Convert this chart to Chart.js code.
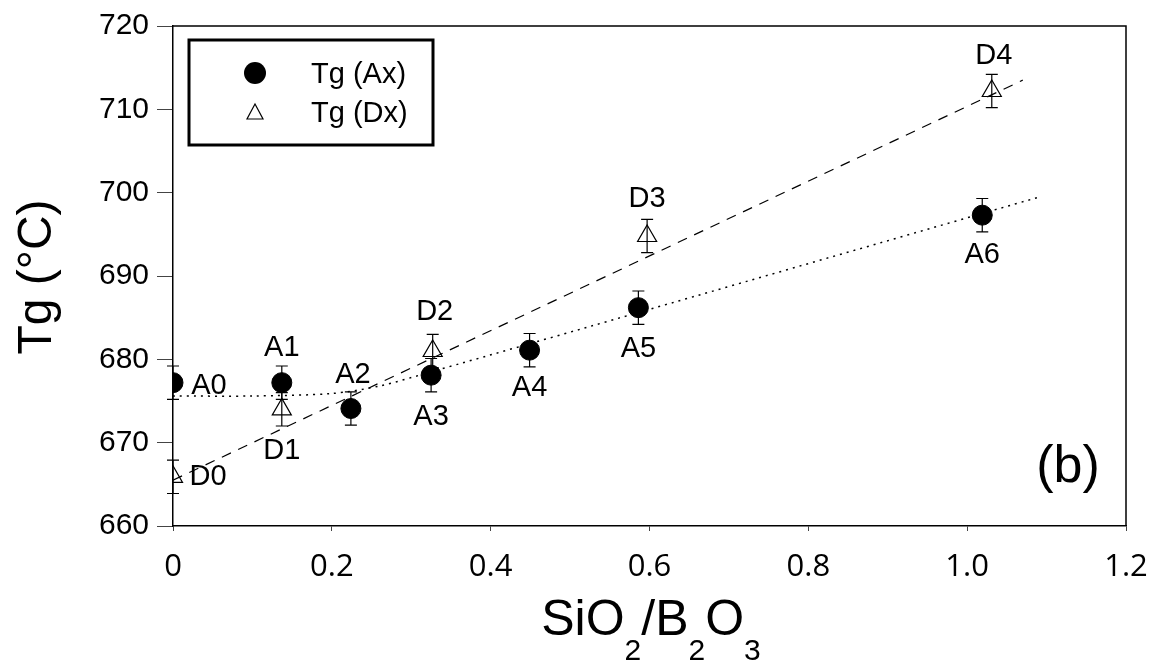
<!DOCTYPE html>
<html>
<head>
<meta charset="utf-8">
<script src="https://cdn.jsdelivr.net/npm/chart.js@4"></script>
<style>
  body { margin: 0; background: #fff; }
  #wrap { width: 1152px; height: 664px; }
</style>
</head>
<body>
<div id="wrap"><canvas id="c" width="1152" height="664"></canvas></div>
<script>
// A series (filled circles)
const aX = [0, 0.137, 0.224, 0.325, 0.449, 0.586, 1.019];
const aY = [677.2, 677.2, 674.1, 678.1, 681.1, 686.2, 697.3];
const aErr = [2, 2, 2, 2, 2, 2, 2];
const aNames = ['A0', 'A1', 'A2', 'A3', 'A4', 'A5', 'A6'];
const aLabelOff = [[36, 3], [0, -35], [2, -34], [0, 42], [0, 38], [0, 41], [0, 40]];

// D series (open triangles)
const dX = [0, 0.137, 0.327, 0.597, 1.031];
const dY = [665.9, 674.0, 681.0, 694.8, 712.2];
const dErr = [2, 2, 2, 2, 2];
const dNames = ['D0', 'D1', 'D2', 'D3', 'D4'];
const dLabelOff = [[35, 0], [0, 42], [2, -39], [0, -37], [2, -35]];

// fit lines
const fitDX = [0, 1.07];
const fitDY = [665.5, 713.5];
const fitAX = [0, 0.1, 0.2, 0.26, 0.325, 0.6, 1.088];
const fitAY = [675.6, 675.6, 675.9, 676.8, 678.5, 686.0, 699.4];

const xTicks = [0, 0.2, 0.4, 0.6, 0.8, 1.0, 1.2];
const yTicks = [660, 670, 680, 690, 700, 710, 720];

const pts = (xs, ys) => xs.map((x, i) => ({ x: x, y: ys[i] }));
const FONT = 'Liberation Sans, Arial, sans-serif';

const extras = {
    id: 'extras',
    afterDatasetsDraw(chart) {
        const ctx = chart.ctx;
        const xs = chart.scales.x, ys = chart.scales.y;
        const ca = chart.chartArea;
        ctx.save();
        // top/right frame
        ctx.strokeStyle = '#000';
        ctx.lineWidth = 1.5;
        ctx.beginPath();
        ctx.moveTo(ca.left, ca.top); ctx.lineTo(ca.right, ca.top); ctx.lineTo(ca.right, ca.bottom);
        ctx.stroke();

        // error bars
        ctx.lineWidth = 1.2;
        const bars = (X, Y, E) => X.forEach((x, i) => {
            const px = xs.getPixelForValue(x);
            const t = ys.getPixelForValue(Y[i] + E[i]);
            const b = ys.getPixelForValue(Y[i] - E[i]);
            ctx.beginPath();
            ctx.moveTo(px, t); ctx.lineTo(px, b);
            ctx.moveTo(px - 6, t); ctx.lineTo(px + 6, t);
            ctx.moveTo(px - 6, b); ctx.lineTo(px + 6, b);
            ctx.stroke();
        });
        bars(aX, aY, aErr);
        bars(dX, dY, dErr);

        // point labels
        ctx.fillStyle = '#000';
        ctx.font = '29px ' + FONT;
        ctx.textAlign = 'center';
        ctx.textBaseline = 'middle';
        const labels = (X, Y, N, O) => X.forEach((x, i) => {
            ctx.fillText(N[i], xs.getPixelForValue(x) + O[i][0], ys.getPixelForValue(Y[i]) + O[i][1]);
        });
        labels(aX, aY, aNames, aLabelOff);
        labels(dX, dY, dNames, dLabelOff);

        // (b)
        ctx.font = '52px ' + FONT;
        ctx.fillText('(b)', 1068, 468);

        // legend box
        ctx.lineWidth = 3;
        ctx.strokeRect(189, 40, 244, 105);
        ctx.beginPath();
        ctx.arc(255, 73, 11, 0, Math.PI * 2);
        ctx.fill();
        ctx.lineWidth = 1.2;
        ctx.beginPath();
        ctx.moveTo(255, 104); ctx.lineTo(263, 119); ctx.lineTo(247, 119); ctx.closePath();
        ctx.stroke();
        ctx.font = '29px ' + FONT;
        ctx.textAlign = 'left';
        ctx.fillText('Tg (Ax)', 311, 75);
        ctx.fillText('Tg (Dx)', 311, 114);

        // x title with subscripts
        ctx.textBaseline = 'alphabetic';
        const parts = [['SiO', 0], ['2', 1], ['/B', 0], ['2', 1], ['O', 0], ['3', 1]];
        let total = 0;
        parts.forEach(p => {
            ctx.font = (p[1] ? '30px ' : '50px ') + FONT;
            total += ctx.measureText(p[0]).width;
        });
        let cx = 651 - total / 2;
        parts.forEach(p => {
            ctx.font = (p[1] ? '30px ' : '50px ') + FONT;
            ctx.fillText(p[0], cx, p[1] ? 660 : 635);
            cx += ctx.measureText(p[0]).width;
        });

        // y title
        ctx.font = '48px ' + FONT;
        ctx.textAlign = 'center';
        ctx.textBaseline = 'middle';
        ctx.translate(38, 277);
        ctx.rotate(-Math.PI / 2);
        ctx.fillText('Tg (°C)', 0, 0);
        ctx.restore();
    }
};

new Chart(document.getElementById('c'), {
    type: 'scatter',
    data: {
        datasets: [
            {
                data: pts(fitDX, fitDY), showLine: true, pointRadius: 0,
                borderColor: '#000', borderWidth: 1.2, borderDash: [10, 8]
            },
            {
                data: pts(fitAX, fitAY), showLine: true, pointRadius: 0, tension: 0.3,
                borderColor: '#000', borderWidth: 1.5, borderDash: [2, 5]
            },
            {
                data: pts(aX, aY), pointStyle: 'circle', pointRadius: 10,
                backgroundColor: '#000', borderColor: '#000'
            },
            {
                data: pts(dX, dY), pointStyle: 'triangle', pointRadius: 11,
                backgroundColor: 'rgba(255,255,255,0)', borderColor: '#000', borderWidth: 1.2
            }
        ]
    },
    options: {
        responsive: false,
        animation: false,
        layout: { padding: { top: 26, right: 26, left: 0, bottom: 0 } },
        plugins: { legend: { display: false }, tooltip: { enabled: false } },
        scales: {
            x: {
                min: 0, max: 1.2,
                afterFit: s => { s.height = 138; s.paddingRight = 0; s.paddingLeft = 0; },
                afterBuildTicks: s => { s.ticks = xTicks.map(v => ({ value: v })); },
                grid: { drawOnChartArea: false, drawTicks: true, tickLength: 5, color: '#444' },
                border: { display: true, color: '#000', width: 1.5 },
                ticks: {
                    color: '#000', padding: 18,
                    font: { size: 31, family: 'Open Sans, sans-serif' },
                    callback: v => v === 0 ? '0' : v.toFixed(1)
                }
            },
            y: {
                min: 660, max: 720,
                afterFit: s => { s.width = 173; s.paddingTop = 0; s.paddingBottom = 0; },
                afterBuildTicks: s => { s.ticks = yTicks.map(v => ({ value: v })); },
                grid: { drawOnChartArea: false, drawTicks: true, tickLength: 16, color: '#444' },
                border: { display: true, color: '#000', width: 1.5 },
                ticks: { color: '#000', padding: 8, font: { size: 30, family: FONT } }
            }
        }
    },
    plugins: [extras]
});
</script>
</body>
</html>
